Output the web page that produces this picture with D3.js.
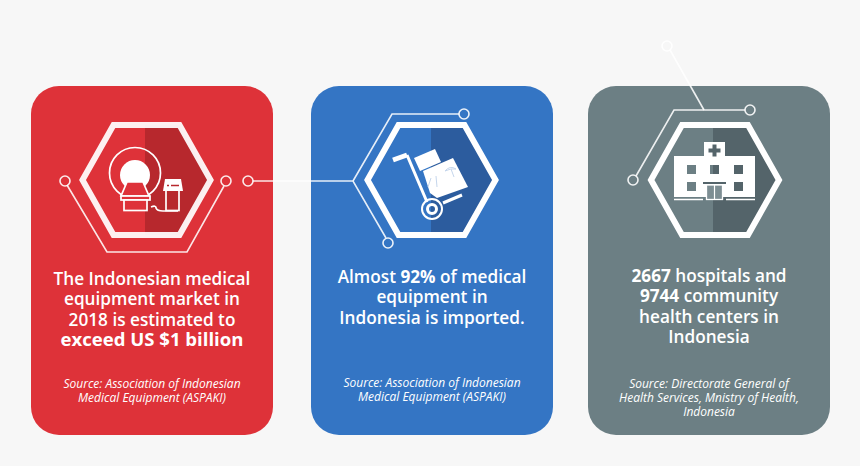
<!DOCTYPE html>
<html>

<head>
    <meta charset="utf-8">
    <title>Medical equipment in Indonesia</title>
    <script src="https://d3js.org/d3.v7.min.js"></script>
    <style>
        html, body { margin: 0; padding: 0; background: #f7f7f7; }
        svg { display: block; font-family: "Open Sans", sans-serif; }
    </style>
</head>

<body>
    <div id="my_dataviz"></div>
    <script>
        // text of the three cards, * marks the bold runs
        var headlines = [
            ["The Indonesian medical", "equipment market in", "2018 is estimated to", "*exceed US $1 billion*"],
            ["Almost *92%* of medical", "equipment in", "Indonesia is imported."],
            ["*2667* hospitals and", "*9744* community", "health centers in", "Indonesia"]
        ];
        var sources = [
            ["Source: Association of Indonesian", "Medical Equipment (ASPAKI)"],
            ["Source: Association of Indonesian", "Medical Equipment (ASPAKI)"],
            ["Source: Directorate General of", "Health Services, Mnistry of Health,", "Indonesia"]
        ];

        // layout and colours
        var cardX = [31, 311, 588];
        var hexX = [146.5, 431.5, 715];
        var cardFill = ["#de3239", "#3475c4", "#6c7f84"];
        var shadeFill = ["#b7282d", "#2c5c9e", "#54646a"];
        var shadeFrom = [145, 431, 713];
        var headY = [285, 283, 282];
        var sourceY = [388, 387, 388];

        var svg = d3.select("#my_dataviz").append("svg")
            .attr("width", 860).attr("height", 466);

        var defs = svg.append("defs");
        var hexPts = function (cx, a, b, h) {
            return [[cx - a, 180], [cx - b, 180 - h], [cx + b, 180 - h], [cx + a, 180], [cx + b, 180 + h], [cx - b, 180 + h]];
        };
        var lineGen = d3.line();

        // cards
        svg.selectAll("rect.card").data(cardX).enter().append("rect")
            .attr("class", "card")
            .attr("x", function (d) { return d; })
            .attr("y", 86).attr("width", 242).attr("height", 349).attr("rx", 28)
            .attr("fill", function (d, i) { return cardFill[i]; });

        // hexagons, dark half first and then the white border
        hexX.forEach(function (cx, i) {
            defs.append("clipPath").attr("id", "hex" + i).append("path")
                .attr("d", lineGen(hexPts(cx, 64, 33, 55)) + "Z");
            svg.append("rect")
                .attr("x", shadeFrom[i]).attr("y", 120).attr("width", 90).attr("height", 120)
                .attr("fill", shadeFill[i])
                .attr("clip-path", "url(#hex" + i + ")");
            svg.append("path")
                .attr("d", lineGen(hexPts(cx, 64, 33, 55)) + "Z")
                .attr("fill", "none").attr("stroke", "#fff").attr("stroke-width", 6)
                .attr("stroke-opacity", i == 0 ? 0.93 : 1);
        });

        // connector lines
        var wires = [
            [[67, 185], [107, 252], [187, 252], [224, 186]],
            [[253, 181], [353, 181], [386, 238]],
            [[353, 181], [392, 114], [459, 114]],
            [[670, 50], [704, 110]],
            [[636, 176], [674, 110], [745, 110]]
        ];
        svg.selectAll("path.wire").data(wires).enter().append("path")
            .attr("class", "wire")
            .attr("d", lineGen)
            .attr("fill", "none").attr("stroke", "#fff").attr("stroke-width", 1.6).attr("stroke-opacity", 0.88);

        var nodes = [[65, 181], [226, 181], [248, 181], [464, 114], [388, 243], [667, 46], [750, 110], [633, 180]];
        svg.selectAll("circle.node").data(nodes).enter().append("circle")
            .attr("class", "node")
            .attr("cx", function (d) { return d[0]; })
            .attr("cy", function (d) { return d[1]; })
            .attr("r", 5)
            .attr("fill", "none").attr("stroke", "#fff").attr("stroke-width", 1.6).attr("stroke-opacity", 0.9);

        // scanner icon
        var scan = svg.append("g").attr("fill", "none").attr("stroke", "#fff").attr("stroke-width", 1.7);
        scan.append("circle").attr("cx", 135).attr("cy", 173).attr("r", 25.5);
        scan.append("circle").attr("cx", 135).attr("cy", 175).attr("r", 15).attr("fill", "#fff").attr("stroke", "none");
        scan.append("path").attr("d", "M127,182H143L149,196H121Z").attr("fill", "#de3239");
        scan.append("rect").attr("x", 121).attr("y", 196).attr("width", 29).attr("height", 4).attr("fill", "#de3239");
        scan.append("rect").attr("x", 124).attr("y", 200).attr("width", 23).attr("height", 10.5).attr("fill", "#de3239");
        scan.append("path").attr("d", "M151,207Q156,205 156,208Q157,211 163,211H178");
        scan.append("rect").attr("x", 166).attr("y", 190).attr("width", 13).attr("height", 20.5);
        scan.append("path").attr("d", "M163,191L165,179H181L183,191Z").attr("fill", "#fff").attr("stroke", "none");
        scan.append("path").attr("d", "M167,185.5H169M171,185.5H179").attr("stroke", "#b7282d").attr("stroke-width", 1.5);

        // trolley icon
        var cart = svg.append("g");
        cart.append("path").attr("d", "M407,155L427,202M443,203L462,195")
            .attr("fill", "none").attr("stroke", "#fff").attr("stroke-width", 3);
        cart.append("path").attr("d", "M393,160L407,155").attr("stroke", "#fff").attr("stroke-width", 5);
        cart.append("path").attr("d", "M414,158L435,149L441,162L420,171Z").attr("fill", "#fff");
        cart.append("path").attr("d", "M423,171L453,158L468,187L437,198L430,193Z").attr("fill", "#fff");
        cart.append("path").attr("d", "M445,171Q450,165 456,169Q451,168 445,171M451,169L454,177M431,178L428,187M436,176L437,187")
            .attr("fill", "none").attr("stroke", "#c5d6ec").attr("stroke-width", 1);
        cart.append("circle").attr("cx", 432).attr("cy", 209).attr("r", 10)
            .attr("fill", "none").attr("stroke", "#fff").attr("stroke-width", 2);
        cart.append("circle").attr("cx", 432).attr("cy", 209).attr("r", 4.5)
            .attr("fill", "none").attr("stroke", "#fff").attr("stroke-width", 3);

        // hospital icon, windows are holes so the dark half shows through
        var rectPath = function (x, y, w, h) { return "M" + x + "," + y + "h" + w + "v" + h + "h" + (-w) + "Z"; };
        var hospital = rectPath(704, 142, 21, 14) + rectPath(674, 156, 81, 41)
            + rectPath(687, 165, 9, 9) + rectPath(710, 165, 9, 9) + rectPath(734, 165, 9, 9)
            + rectPath(687, 182, 9, 9) + rectPath(734, 182, 9, 9);
        svg.append("path").attr("d", hospital).attr("fill", "#fff").attr("fill-rule", "evenodd");
        svg.append("path").attr("d", "M708.5,150.5h12M714.5,144.5v12").attr("stroke", "#54646a").attr("stroke-width", 4);
        svg.append("path").attr("d", "M674,199.5H703M726,199.5H755").attr("stroke", "#fff").attr("stroke-width", 1.5);
        svg.append("rect").attr("x", 703).attr("y", 182).attr("width", 23).attr("height", 2).attr("fill", "#54646a");
        svg.append("rect").attr("x", 706.5).attr("y", 185).attr("width", 16).attr("height", 14.5)
            .attr("fill", "#7d8e93").attr("stroke", "#fff").attr("stroke-width", 1.3);
        svg.append("path").attr("d", "M714.5,185V199").attr("stroke", "#fff").attr("stroke-width", 1.2);

        // one text per paragraph, the * runs become bold tspans
        // a line that is bold from start to end is set a bit larger
        function addLines(cardIndex, lines, y0, step, size, italic, weight) {
            var cx = cardX[cardIndex] + 121;
            var t = svg.append("text")
                .attr("text-anchor", "middle")
                .attr("fill", "#fff")
                .style("font-size", size + "px")
                .style("font-weight", weight)
                .style("font-style", italic ? "italic" : "normal");
            lines.forEach(function (line, k) {
                var first = true;
                var allBold = line[0] == "*" && line[line.length - 1] == "*";
                line.split("*").forEach(function (part, p) {
                    if (!part.length) return;
                    var s = t.append("tspan").text(part).style("font-weight", p % 2 ? 700 : weight);
                    if (allBold) s.style("font-size", (size * 1.08) + "px");
                    if (first) s.attr("x", cx).attr("y", y0 + k * step);
                    first = false;
                });
            });
        }
        headlines.forEach(function (lines, i) { addLines(i, lines, headY[i], 20.4, 17.2, false, 600); });
        sources.forEach(function (lines, i) { addLines(i, lines, sourceY[i], 14, 12, true, 500); });
    </script>
</body>

</html>
